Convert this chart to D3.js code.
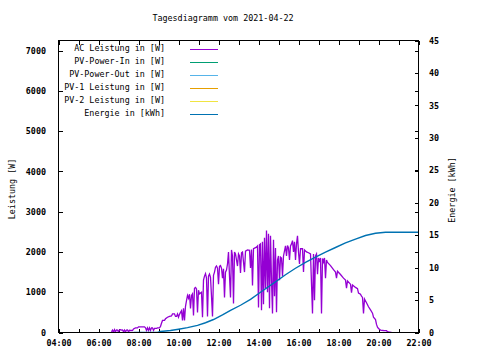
<!DOCTYPE html>
<html><head><meta charset="utf-8">
<script src="https://cdn.jsdelivr.net/npm/d3@7/dist/d3.min.js"></script>
<style>
body{margin:0;background:#fff}
svg text{font-family:"DejaVu Sans Mono","Liberation Mono",monospace;font-size:8.4px;fill:#000}
</style>
</head><body>
<svg id="c" width="480" height="360"></svg>
<script>
const chartTitle = "Tagesdiagramm vom 2021-04-22";
const yLabel = "Leistung [W]";
const y2Label = "Energie [kWh]";
const xTickLabels = ["04:00","06:00","08:00","10:00","12:00","14:00","16:00","18:00","20:00","22:00"];
const xTickHours = ["04:00","05:00","06:00","07:00","08:00","09:00","10:00","11:00","12:00","13:00","14:00","15:00","16:00","17:00","18:00","19:00","20:00","21:00","22:00"];
const yTicks = [0,1000,2000,3000,4000,5000,6000,7000];
const y2Ticks = [0,5,10,15,20,25,30,35,40,45];
const seriesNames = ["AC Leistung in [W]","PV-Power-In in [W]","PV-Power-Out in [W]","PV-1 Leistung in [W]","PV-2 Leistung in [W]","Energie in [kWh]"];
const seriesColors = ["#9400d3","#009e73","#56b4e9","#e69f00","#f0e442","#0072b2"];

// AC Leistung [W]
const acData = [
["06:39",15],["06:42",60],["06:45",10],["06:48",70],["06:51",20],["06:54",65],["06:57",60],["07:00",15],
["07:03",65],["07:06",70],["07:09",60],["07:12",65],["07:15",20],["07:18",60],["07:21",15],["07:24",60],
["07:27",65],["07:30",15],["07:33",55],["07:36",50],["07:42",50],["07:45",90],["07:51",115],["07:57",115],
["08:00",140],["08:09",140],["08:18",140],["08:21",115],["08:24",50],["08:27",115],["08:30",50],["08:33",115],
["08:36",50],["08:39",115],["08:42",115],["08:45",50],["08:48",100],["08:54",100],["08:57",115],["09:03",115],
["09:06",150],["09:09",230],["09:12",300],["09:18",300],["09:21",340],["09:27",380],["09:33",400],["09:39",410],
["09:42",460],["09:48",460],["09:51",400],["09:54",400],["09:57",460],["10:00",380],["10:03",450],["10:06",500],
["10:09",540],["10:12",300],["10:15",600],["10:18",300],["10:21",650],["10:24",790],["10:27",920],["10:30",850],
["10:33",950],["10:36",600],["10:39",920],["10:42",960],["10:45",420],["10:48",1100],["10:51",1120],["10:54",1080],
["10:57",500],["11:00",1050],["11:03",960],["11:09",1000],["11:12",380],["11:15",1300],["11:18",1400],["11:21",1460],
["11:24",1350],["11:27",400],["11:30",1400],["11:33",1450],["11:36",1370],["11:39",900],["11:42",400],["11:45",1420],
["11:48",1500],["11:51",1620],["11:54",1650],["11:57",1600],["12:00",1200],["12:03",1640],["12:06",1660],["12:09",1600],
["12:12",1350],["12:15",1580],["12:18",870],["12:21",1500],["12:24",1550],["12:27",1700],["12:30",2000],["12:33",1400],
["12:36",870],["12:39",2050],["12:42",1900],["12:45",720],["12:48",2000],["12:51",1950],["12:54",1800],["12:57",1650],
["13:00",1950],["13:03",1900],["13:06",1480],["13:09",1980],["13:12",2000],["13:18",1500],["13:21",2020],["13:27",2050],
["13:33",2040],["13:36",1600],["13:39",2060],["13:42",1170],["13:45",2080],["13:54",2120],["13:57",2150],["14:00",620],
["14:03",2180],["14:06",2200],["14:09",550],["14:12",2250],["14:15",700],["14:18",2350],["14:21",1100],["14:24",2530],
["14:27",1000],["14:30",2450],["14:33",600],["14:36",2400],["14:39",1300],["14:42",470],["14:45",2300],["14:48",900],
["14:51",2100],["14:54",500],["14:57",1800],["15:00",1900],["15:03",1300],["15:06",1870],["15:09",1850],["15:12",1400],
["15:15",1900],["15:21",2150],["15:24",1900],["15:27",2160],["15:30",2100],["15:33",1800],["15:36",2150],["15:39",2200],
["15:42",2280],["15:45",2000],["15:48",2250],["15:51",1800],["15:54",2200],["15:57",2400],["16:00",2000],["16:03",1700],
["16:06",2080],["16:12",2080],["16:15",1500],["16:18",2050],["16:24",2000],["16:30",1980],["16:36",1950],["16:42",470],
["16:45",1950],["16:48",800],["16:51",1900],["16:54",1950],["16:57",1450],["17:00",1850],["17:03",1750],["17:06",1850],
["17:09",470],["17:12",1840],["17:15",1750],["17:18",1850],["17:21",1350],["17:24",1800],["17:27",1740],["17:36",1660],
["17:45",1560],["17:51",1500],["17:54",1350],["17:57",1520],["18:06",1440],["18:15",1350],["18:21",1300],["18:24",1100],
["18:27",1280],["18:36",1200],["18:39",990],["18:42",1180],["18:51",1120],["18:57",1090],["19:00",980],["19:06",950],
["19:09",900],["19:12",870],["19:15",470],["19:18",830],["19:24",740],["19:30",640],["19:36",560],["19:42",480],
["19:45",380],["19:51",320],["19:54",200],["19:57",130],["20:00",100],["20:06",60],["20:15",50],["20:24",45],
["20:27",20],["20:33",10],["20:39",0]
];

// Energie [kWh]
const energyData = [
["07:45",0],["08:57",0],["09:06",0.15],["09:36",0.3],["10:00",0.5],["10:27",0.75],["10:57",1.1],["11:21",1.5],
["11:45",2.0],["12:12",2.7],["12:36",3.4],["13:06",4.2],["13:36",5.1],["14:06",6.2],["14:51",7.8],["15:21",8.9],
["15:51",9.9],["16:21",10.8],["16:51",11.6],["17:21",12.4],["17:51",13.1],["18:21",13.8],["18:51",14.4],["19:21",14.95],
["19:51",15.3],["20:21",15.45],["22:00",15.45]
];

const toMin = s => { const [h,m] = s.split(":").map(Number); return h*60+m; };

const svg = d3.select("#c");
const L = 58.5, R = 418.5, T = 40.5, B = 332.5;

const x = d3.scaleLinear().domain([toMin("04:00"), toMin("22:00")]).range([L, R]);
const y = d3.scaleLinear().domain([0, 7250]).range([B, T]);
const y2 = d3.scaleLinear().domain([0, 45]).range([B, T]);

svg.append("rect").attr("width",480).attr("height",360).attr("fill","#fff");

// title
svg.append("text").attr("x",223).attr("y",20.5).attr("text-anchor","middle").text(chartTitle);

const tickStyle = g => { g.select(".domain").remove(); g.selectAll("line").attr("stroke","#000").attr("shape-rendering","crispEdges"); g.selectAll("text").attr("font-weight","bold").attr("font-family",null).attr("font-size",null); };

const xLabelSet = new Set(xTickLabels.map(toMin));
const fmt = v => { const h = Math.floor(v/60), m = v%60; return String(h).padStart(2,"0")+":"+String(m).padStart(2,"0"); };

// bottom x axis
svg.append("g").attr("transform",`translate(0,${B})`)
  .call(d3.axisBottom(x).tickValues(xTickHours.map(toMin)).tickSize(-4).tickPadding(8)
    .tickFormat(v => xLabelSet.has(v) ? xTickLabels[xTickLabels.map(toMin).indexOf(v)] : ""))
  .call(tickStyle);
// top mirror
svg.append("g").attr("transform",`translate(0,${T})`)
  .call(d3.axisTop(x).tickValues(xTickHours.map(toMin)).tickSize(-4).tickFormat(""))
  .call(tickStyle);
// left y
svg.append("g").attr("transform",`translate(${L},0)`)
  .call(d3.axisLeft(y).tickValues(yTicks).tickSize(-4).tickPadding(12.5).tickFormat(d3.format("d")))
  .call(tickStyle);
// right mirror of y
svg.append("g").attr("transform",`translate(${R},0)`)
  .call(d3.axisRight(y).tickValues(yTicks).tickSize(-4).tickFormat(""))
  .call(tickStyle);
// right y2
svg.append("g").attr("transform",`translate(${R},0)`)
  .call(d3.axisRight(y2).tickValues(y2Ticks).tickSize(-4).tickPadding(10.5).tickFormat(d3.format("d")))
  .call(tickStyle);

// axis labels
svg.append("text").attr("transform","translate(14.5,189) rotate(-90)").attr("text-anchor","middle").text(yLabel);
svg.append("text").attr("transform","translate(455,190) rotate(-90)").attr("text-anchor","middle").text(y2Label);

// data lines
const clip = svg.append("clipPath").attr("id","pc").append("rect").attr("x",L).attr("y",T).attr("width",R-L).attr("height",B-T);

svg.append("path").datum(acData)
  .attr("clip-path","url(#pc)")
  .attr("fill","none").attr("stroke",seriesColors[0]).attr("stroke-width",1.3)
  .attr("d", d3.line().x(d => x(toMin(d[0]))).y(d => y(d[1])));

svg.append("path").datum(energyData)
  .attr("clip-path","url(#pc)")
  .attr("fill","none").attr("stroke",seriesColors[5]).attr("stroke-width",1.4)
  .attr("d", d3.line().x(d => x(toMin(d[0]))).y(d => y2(d[1])));

// legend
const lg = svg.append("g");
seriesNames.forEach((name,i) => {
  const yy = 49.5 + i*13;
  lg.append("text").attr("x",165).attr("y",yy+1.5).attr("text-anchor","end").text(name);
  lg.append("line").attr("x1",190).attr("x2",218).attr("y1",yy).attr("y2",yy)
    .attr("stroke",seriesColors[i]).attr("stroke-width",1);
});

// border
svg.append("rect").attr("x",L).attr("y",T).attr("width",R-L).attr("height",B-T)
  .attr("fill","none").attr("stroke","#000").attr("stroke-width",1).attr("shape-rendering","crispEdges");
</script>
</body></html>
